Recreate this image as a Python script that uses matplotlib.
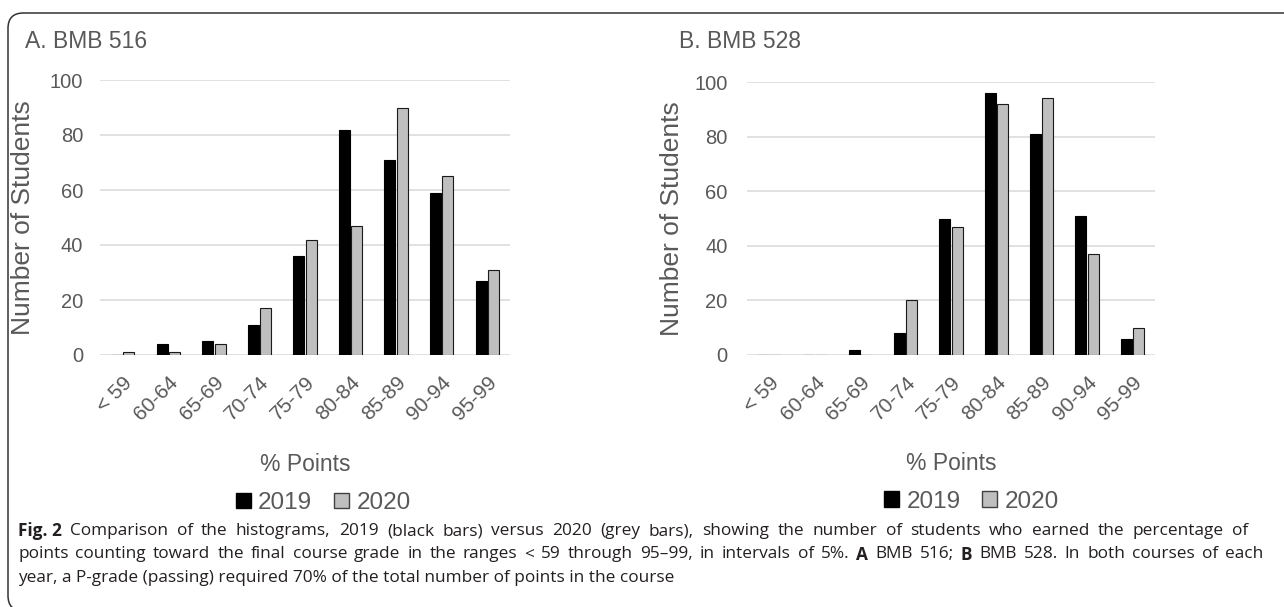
import matplotlib.pyplot as plt
import numpy as np
from matplotlib.patches import FancyBboxPatch, Patch

plt.rcParams["font.family"] = ["Liberation Sans", "DejaVu Sans"]

W, H = 1284, 607

RANGES = ["< 59", "60-64", "65-69", "70-74", "75-79", "80-84", "85-89", "90-94", "95-99"]

# BMB 516
bmb516_2019 = [0, 4, 5, 11, 36, 82, 71, 59, 27]
bmb516_2020 = [1, 1, 4, 17, 42, 47, 90, 65, 31]

# BMB 528
bmb528_2019 = [0, 0, 2, 8, 50, 96, 81, 51, 6]
bmb528_2020 = [0, 0, 0, 20, 47, 92, 94, 37, 10]

TXT = "#595959"
GRID = "#d9d9d9"
BLACK = "#000000"
GREY = "#bfbfbf"


def px_box(x0, x1, y_top, y_bot):
    """Axes rectangle from pixel edges (y measured from the top)."""
    return [x0 / W, 1 - y_bot / H, (x1 - x0) / W, (y_bot - y_top) / H]


def draw_panel(ax, v2019, v2020, title, title_x, ylab_x, ypad, leg_x):
    x = np.arange(len(RANGES))
    w = 0.24
    ax.bar(x - 0.135, v2019, w, color=BLACK, edgecolor=BLACK, linewidth=0.8, zorder=3)
    ax.bar(x + 0.135, v2020, w, color=GREY, edgecolor="#1a1a1a", linewidth=0.8, zorder=3)

    ax.set_xlim(-0.5, len(RANGES) - 0.5)
    ax.set_ylim(0, 100)
    ax.set_yticks(range(0, 101, 20))
    ax.yaxis.grid(True, color=GRID, linewidth=1.1, zorder=0)
    ax.set_axisbelow(True)
    for s in ax.spines.values():
        s.set_visible(False)

    ax.set_xticks(x)
    ax.set_xticklabels(RANGES, rotation=45, ha="right", rotation_mode="anchor")
    ax.tick_params(axis="x", length=0, pad=13, labelsize=15, labelcolor=TXT)
    ax.tick_params(axis="y", length=0, pad=ypad, labelsize=14.5, labelcolor=TXT)

    ax.set_ylabel("Number of Students", fontsize=19, color=TXT)
    ax.yaxis.set_label_coords(ylab_x, 0.5)
    ax.set_xlabel("% Points", fontsize=16.5, color=TXT)
    ax.xaxis.set_label_coords(0.5, -0.356)

    ax.figure.text(title_x / W, 1 - 42 / H, title, fontsize=16.5, color=TXT,
                   ha="left", va="center")

    handles = [Patch(facecolor=BLACK, edgecolor=BLACK, label="2019"),
               Patch(facecolor=GREY, edgecolor="#404040", label="2020")]
    ax.legend(handles=handles, loc="center", bbox_to_anchor=(leg_x, (355 - 503) / 275),
              ncol=2, frameon=False, fontsize=17.5, labelcolor=TXT,
              handlelength=0.62, handleheight=0.62, handletextpad=0.3,
              columnspacing=0.9, borderaxespad=0)


fig = plt.figure(figsize=(W / 100, H / 100), dpi=100)

# outer rounded frame, open on the right and bottom
frame = FancyBboxPatch((8 / W, -4 / H), 1.2, (H - 13 + 4) / H,
                       boxstyle="round,pad=0,rounding_size=0.012",
                       transform=fig.transFigure, facecolor="none",
                       edgecolor="#333333", linewidth=1.1, mutation_aspect=W / H)
fig.patches.append(frame)

ax1 = fig.add_axes(px_box(100, 510, 80, 355))
ax2 = fig.add_axes(px_box(747, 1155, 82, 355))
draw_panel(ax1, bmb516_2019, bmb516_2020, "A. BMB 516", 25, -0.159, 12, 0.544)
draw_panel(ax2, bmb528_2019, bmb528_2020, "B. BMB 528", 679, -0.154, 14, 0.55)

# figure caption: justified lines with bold run-ins, placed word by word
cap_font = dict(family=["Open Sans", "DejaVu Sans"], fontsize=12.4, color="#231f20")
line1 = [("Fig. 2", "bold")] + [(w, "normal") for w in (
    "Comparison of the histograms, 2019 (black bars) versus 2020 (grey bars), showing the "
    "number of students who earned the percentage of").split()]
line2 = [(w, "normal") for w in (
    "points counting toward the final course grade in the ranges < 59 through 95\u201399, "
    "in intervals of 5%.").split()]
line2 += [("A", "bold"), ("BMB", "normal"), ("516;", "normal"), ("B", "bold")]
line2 += [(w, "normal") for w in "BMB 528. In both courses of each".split()]
line3 = [("year, a P-grade (passing) required 70% of the total number of points in the course",
          "normal")]
caption = [(line1, 1248), (line2, 1263), (line3, None)]

renderer = fig.canvas.get_renderer()
x_left = 18
for i, (words, x_right) in enumerate(caption):
    y = 1 - (531 + i * 23.5) / H
    texts = [fig.text(0, y, w, fontweight=wt, va="center", **cap_font) for w, wt in words]
    widths = [t.get_window_extent(renderer).width for t in texts]
    if x_right is None or len(texts) < 2:
        gap = 0
    else:
        gap = (x_right - x_left - sum(widths)) / (len(texts) - 1)
    x = x_left
    for t, wd in zip(texts, widths):
        t.set_x(x / W)
        x += wd + gap

fig.savefig("out.png", dpi=100)
